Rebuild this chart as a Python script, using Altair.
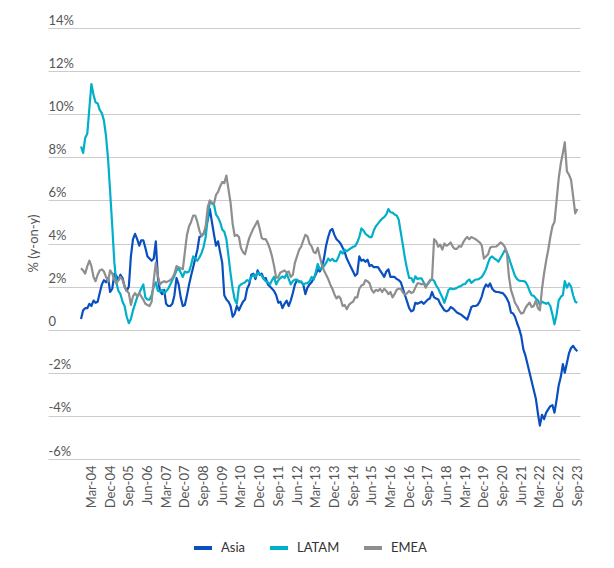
import altair as alt
import pandas as pd

# Monthly data, Oct-2003 .. Sep-2023 (240 months), % y-on-y
start_month = "2003-10-01"
n_months = 240

asia = [
    0.5, 0.9, 1.0, 1.0, 1.2, 1.1, 1.35, 1.25, 1.3, 1.7,
    2.1, 2.3, 2.2, 2.4, 1.75, 1.9, 2.6, 2.5, 2.3, 2.55,
    2.4, 2.0, 1.8, 2.0, 3.4, 4.2, 4.45, 4.2, 3.9, 4.15,
    4.15, 3.8, 3.4, 3.3, 3.2, 3.3, 4.1, 2.4, 1.8, 1.65,
    1.85, 1.2, 1.1, 1.1, 1.2, 1.6, 2.4, 2.1, 1.5, 1.1,
    1.15, 1.6, 2.1, 2.5, 2.9, 3.3, 3.7, 4.3, 4.35, 4.45,
    4.7, 5.1, 5.6, 5.0, 4.4, 3.9, 4.1, 3.6, 3.1, 1.6,
    1.4, 1.3, 1.1, 0.6, 0.75, 1.1, 0.9, 1.1, 1.3, 1.4,
    1.9, 2.1, 2.55, 2.6, 2.35, 2.75, 2.55, 2.6, 2.35, 2.4,
    2.1, 2.0, 1.9, 1.8, 1.6, 1.25, 1.3, 1.0, 1.2, 1.35,
    1.1, 1.35, 1.7, 2.1, 2.3, 2.25, 2.2, 2.1, 1.65, 1.95,
    2.1, 2.2, 2.4, 2.55, 2.8, 2.7, 2.9, 3.3, 3.9, 4.3,
    4.6, 4.68, 4.4, 4.2, 4.1, 4.0, 3.8, 3.6, 3.3, 3.1,
    2.9, 2.7, 2.5, 2.6, 3.4, 3.2, 3.25, 3.15, 3.25, 2.95,
    3.0, 2.9, 2.9, 2.9, 2.75, 2.6, 2.45, 2.7, 2.8, 2.45,
    2.45, 2.45, 2.35, 2.3, 2.2, 1.9, 1.6, 1.3, 1.0, 0.85,
    0.9, 1.25, 1.2, 1.25, 1.3, 1.2, 1.3, 1.4, 1.45, 1.75,
    1.5, 1.45, 1.4, 1.2, 1.05, 0.9, 0.85, 0.9, 1.05, 1.0,
    0.9, 0.8, 0.75, 0.7, 0.62, 0.55, 0.47, 0.75, 1.05, 1.1,
    1.1, 1.15, 1.3, 1.55, 1.9, 2.1, 2.0, 2.15, 1.9, 1.8,
    1.75, 1.75, 1.72, 1.7, 1.6, 1.45, 1.25, 0.8, 0.75, 0.6,
    0.3, 0.05, -0.3, -0.9, -1.2, -1.6, -2.0, -2.4, -2.8, -3.2,
    -3.9, -4.45, -3.95, -4.15, -3.85, -3.7, -3.55, -3.5, -3.85, -3.25,
    -2.6, -2.2, -1.6, -2.0, -1.55, -1.1, -0.85, -0.75, -0.9, -1.0,
]

latam = [
    8.5, 8.2, 8.9, 9.1, 10.3, 11.4, 10.9, 10.55, 10.5, 10.2,
    10.05, 9.7, 9.0, 7.9, 6.4, 4.8, 3.1, 2.2, 1.8, 1.65,
    1.3, 1.1, 0.6, 0.3, 0.5, 0.9, 1.2, 1.5, 1.7, 1.9,
    2.1, 1.5, 1.4, 1.4, 1.6, 2.0, 2.2, 1.8, 1.78, 1.85,
    1.7, 1.78, 1.9, 2.1, 2.3, 2.5, 2.75, 2.85, 2.65, 2.45,
    2.7, 2.65, 2.7, 3.0, 3.4, 3.3, 3.2, 3.35, 3.55, 3.85,
    4.3, 5.2, 5.95, 5.85, 5.8, 5.35, 5.2, 5.0, 4.65, 4.55,
    4.2, 3.4, 2.6, 1.9, 1.4, 1.2, 2.0, 2.1, 2.15, 2.2,
    2.3, 2.25, 2.45, 2.55, 2.45, 2.65, 2.6, 2.5, 2.35, 2.25,
    2.2, 2.1, 2.3, 2.45, 2.1, 2.3, 2.4, 2.47, 2.4, 2.6,
    2.35, 2.1, 2.25, 2.32, 2.32, 2.2, 2.24, 2.1, 2.15, 2.16,
    2.24, 2.45, 2.32, 2.65, 3.05, 2.8, 2.85, 2.95, 3.1, 3.3,
    3.2, 3.29, 3.18, 3.18, 3.4, 3.64, 3.53, 3.72, 3.64, 3.72,
    3.78, 3.85, 3.88, 4.05, 4.3, 4.7, 4.6, 4.45, 4.38, 4.3,
    4.3, 4.6, 4.8, 4.92, 5.05, 5.15, 5.22, 5.35, 5.6, 5.45,
    5.43, 5.35, 5.3, 5.1, 4.5, 3.9, 3.3, 2.8, 2.4, 2.4,
    2.2, 2.48, 2.35, 2.38, 2.38, 2.2, 2.05, 2.12, 2.25, 2.35,
    2.27, 2.05, 1.9, 1.7, 1.5, 1.25, 1.55, 1.85, 1.92, 1.88,
    1.9, 1.94, 2.0, 2.03, 2.1, 2.12, 2.25, 2.33, 2.17, 2.25,
    2.33, 2.33, 2.38, 2.45, 2.6, 2.8, 3.1, 3.33, 3.4, 3.3,
    3.25, 3.15, 3.33, 3.5, 3.68, 3.6, 3.35, 3.05, 2.75, 2.5,
    2.35, 2.28, 2.26, 2.26, 2.22, 2.05, 1.8, 1.6, 1.57, 1.45,
    1.35, 1.15, 1.3, 1.25, 1.2, 1.25, 1.1, 0.7, 0.25, 0.7,
    1.35, 1.52, 1.6, 2.25, 1.95, 2.15, 2.0, 1.6, 1.3, 1.25,
]

emea = [
    2.85, 2.75, 2.6, 2.95, 3.2, 2.95, 2.45, 2.25, 2.55, 2.75,
    2.8, 2.7, 2.45, 2.25, 2.75, 2.6, 2.3, 2.15, 2.3, 2.45,
    2.3, 2.0, 1.8, 1.7, 1.15, 1.55, 1.7, 1.55, 1.7, 1.55,
    1.4, 1.2, 1.15, 1.1, 1.3, 2.3, 3.1, 2.5, 2.1, 2.2,
    2.25, 2.2, 2.25, 2.3, 2.4, 2.6, 2.95, 2.9, 2.85, 2.8,
    3.6, 4.4, 4.8, 5.0, 5.3, 5.3, 5.0, 4.6, 4.35, 4.45,
    4.8, 5.7, 6.0, 5.9, 5.85, 6.25, 6.4, 6.65, 6.85, 6.8,
    7.15, 6.5, 5.9, 4.9, 4.35, 4.4, 4.3, 3.8, 3.6, 3.5,
    3.9, 4.25, 4.48, 4.7, 4.87, 5.05, 4.7, 4.25, 4.2, 4.2,
    4.0, 3.75, 3.4, 2.95, 2.4, 2.45, 2.65, 2.7, 2.75, 2.65,
    2.7, 2.45, 2.55, 3.1, 3.4, 3.7, 3.85, 4.15, 4.4, 4.33,
    4.0, 3.87, 3.6, 3.55, 3.8, 3.4, 3.0, 2.75, 2.55, 2.35,
    2.1, 1.9, 1.65, 1.45, 1.55, 1.45, 1.1, 1.15, 0.95, 1.15,
    1.24, 1.3, 1.5, 1.5, 1.9, 2.05, 2.1, 2.3, 2.25, 2.15,
    1.85, 1.72, 1.85, 1.8, 1.9, 1.75, 1.9, 1.8, 1.65, 1.75,
    1.5, 1.65, 1.85, 1.9, 1.9, 1.72, 1.63, 1.7, 1.8, 1.7,
    1.75, 1.95, 2.15, 2.15, 2.1, 2.15, 1.95, 2.15, 2.3, 2.35,
    4.2, 4.1, 3.85, 3.95, 3.72, 4.0, 3.9, 3.95, 4.05, 3.85,
    3.75, 3.75, 3.88, 3.85, 4.05, 4.2, 4.3, 4.2, 4.3, 4.25,
    4.2, 4.12, 4.05, 3.9, 3.3, 3.4, 3.5, 3.8, 3.85, 3.85,
    3.86, 3.95, 4.05, 3.98, 3.85, 3.6, 2.5, 1.85, 1.55, 1.25,
    1.1, 0.9, 0.75, 0.78, 1.0, 1.15, 1.26, 1.05, 1.1, 1.35,
    1.0, 0.9, 1.9, 2.6, 3.2, 3.7, 4.3, 4.8, 5.0, 6.0,
    7.0, 7.7, 8.2, 8.7, 7.35, 7.2, 6.95, 6.2, 5.4, 5.6,
]

series_names = ["Asia", "LATAM", "EMEA"]
series_colors = ["#0a4fbf", "#00afc9", "#8e8e8e"]

x_tick_months = [
    (2004, 3), (2004, 12), (2005, 9), (2006, 6), (2007, 3), (2007, 12),
    (2008, 9), (2009, 6), (2010, 3), (2010, 12), (2011, 9), (2012, 6),
    (2013, 3), (2013, 12), (2014, 9), (2015, 6), (2016, 3), (2016, 12),
    (2017, 9), (2018, 6), (2019, 3), (2019, 12), (2020, 9), (2021, 6),
    (2022, 3), (2022, 12), (2023, 9),
]
y_ticks = [-6, -4, -2, 0, 2, 4, 6, 8, 10, 12, 14]

for s in (asia, latam, emea):
    assert len(s) == n_months, len(s)

dates = pd.date_range(start_month, periods=n_months, freq="MS").strftime("%Y-%m-%d")
rows = []
for name, vals in zip(series_names, [asia, latam, emea]):
    for d, v in zip(dates, vals):
        rows.append({"date": d, "series": name, "value": v})
df = pd.DataFrame(rows)

FONT = "Lato"
TXT = "#555555"

x_values = [alt.DateTime(year=y, month=m, date=1, utc=True) for y, m in x_tick_months]

chart = (
    alt.Chart(df)
    .mark_line(strokeWidth=2.2, strokeJoin="round")
    .encode(
        x=alt.X(
            "date:T",
            scale=alt.Scale(
                type="utc",
                domain=[
                    alt.DateTime(year=2002, month=6, date=4, utc=True),
                    alt.DateTime(year=2023, month=10, date=10, utc=True),
                ],
            ),
            axis=alt.Axis(
                values=x_values,
                labelExpr="utcFormat(datum.value, '%b-%y')",
                labelAngle=-90,
                labelAlign="right",
                labelBaseline="middle",
                labelPadding=6,
                labelFlush=False,
                labelOverlap=False,
                grid=False,
                domain=False,
                ticks=False,
                title=None,
                labelFontSize=13,
            ),
        ),
        y=alt.Y(
            "value:Q",
            scale=alt.Scale(domain=[-6, 14], nice=False),
            axis=alt.Axis(
                values=y_ticks,
                labelExpr="datum.value == 0 ? '0' : datum.value + '%'",
                labelAlign="left",
                labelBaseline="alphabetic",
                labelPadding=0,
                labelOffset=-4,
                labelFontSize=13,
                grid=True,
                gridColor="#cccccc",
                gridWidth=1,
                domain=False,
                ticks=False,
                title="% (y-on-y)",
                titleX=-15,
                titleY=215,
                titleAngle=-90,
                titleAlign="center",
                titleBaseline="middle",
                titleFontSize=13,
                titleFontWeight="normal",
            ),
        ),
        color=alt.Color(
            "series:N",
            scale=alt.Scale(domain=series_names, range=series_colors),
            legend=alt.Legend(
                title=None,
                orient="none",
                legendX=144,
                legendY=509,
                direction="horizontal",
                symbolType="stroke",
                symbolStrokeWidth=4,
                symbolSize=324,
                labelFontSize=13,
                labelColor="#333333",
                labelOffset=7,
                columnPadding=16,
                padding=0,
            ),
        ),
        order=alt.Order("date:T"),
    )
    .properties(
        width=532,
        height=431,
        autosize=alt.AutoSizeParams(type="none"),
        padding={"left": 40, "top": 20, "right": 26, "bottom": 100},
    )
    .configure_view(stroke=None)
    .configure_axis(labelFont=FONT, titleFont=FONT, labelColor=TXT, titleColor=TXT)
    .configure_legend(labelFont=FONT)
)

chart.save("out.html", embed_options={"renderer": "svg", "actions": False})
